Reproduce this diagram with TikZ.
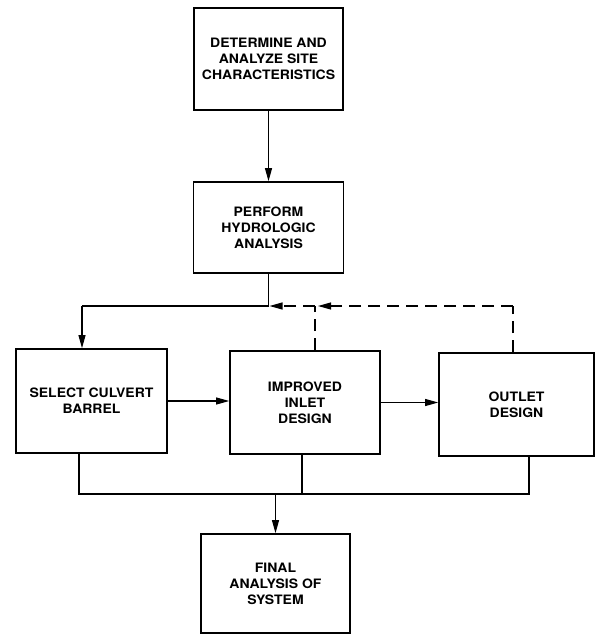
\documentclass[tikz,border=0pt]{standalone}
\usepackage{fontspec}
\setmainfont{TeX Gyre Heros}[FakeStretch=1.08]
\usetikzlibrary{arrows.meta}

\begin{document}
\begin{tikzpicture}[x=1bp,y=-1bp,
  stage/.style={draw,line width=1.7pt,align=center,inner sep=0pt,
    font=\fontsize{13}{16}\selectfont\bfseries},
  flow/.style={line width=1.1pt,-{Triangle[length=13bp,width=7bp]}},
  link/.style={line width=1.1pt},
  back/.style={line width=1.1pt,dash pattern=on 12bp off 7bp}]
\useasboundingbox (0,0) rectangle (597,635);

% boxes
\node[stage,minimum width=149bp,minimum height=102bp] (site) at (268.5,59) {DETERMINE AND\\ANALYZE SITE\\CHARACTERISTICS};
\node[stage,minimum width=150bp,minimum height=91bp] (hydro) at (268.5,227.5) {PERFORM\\HYDROLOGIC\\ANALYSIS};
\node[stage,minimum width=151bp,minimum height=104bp] (barrel) at (91.5,401) {SELECT CULVERT\\BARREL};
\node[stage,minimum width=150bp,minimum height=103bp] (inlet) at (305,402.5) {IMPROVED\\INLET\\DESIGN};
\node[stage,minimum width=155bp,minimum height=103bp] (outlet) at (516.5,404.5) {OUTLET\\DESIGN};
\node[stage,minimum width=149bp,minimum height=99bp] (final) at (275.5,583.5) {FINAL\\ANALYSIS OF\\SYSTEM};

% points where lines meet
\coordinate (join) at (268.5,306);
\coordinate (feed) at (82,306);
\coordinate (intop) at (315,306);
\coordinate (outtop) at (513,306);
\coordinate (lft) at (79,494);
\coordinate (rgt) at (529,494);
\coordinate (mid) at (302,494);
\coordinate (collect) at (275.5,494);

\draw[flow] (site.south) -- (hydro.north);
\draw[link] (hydro.south) -- (join) -- (feed);
\draw[flow] (feed) -- (feed |- barrel.north);

% iteration loop
\draw[back] (outtop |- outlet.north) -- (outtop);
\draw[back,-{Triangle[length=13bp,width=7bp]}] (outtop) -- ([xshift=3bp]intop);
\draw[back] (intop |- inlet.north) -- (intop);
\draw[back,-{Triangle[length=13bp,width=7bp]}] (intop) -- ([xshift=1bp]join);

\draw[flow] (barrel.east) -- (barrel.east -| inlet.west);
\draw[flow] (inlet.east) -- (inlet.east -| outlet.west);

\draw[link] (lft |- barrel.south) -- (lft) -- (rgt) -- (rgt |- outlet.south);
\draw[link] (mid |- inlet.south) -- (mid);
\draw[flow] (collect) -- (final.north);
\end{tikzpicture}
\end{document}
